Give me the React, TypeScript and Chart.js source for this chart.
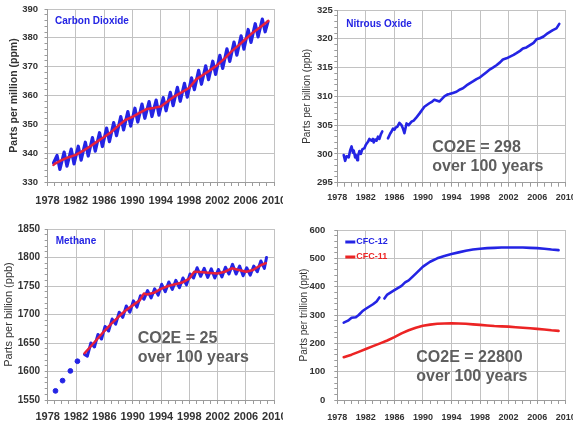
import React, { useEffect, useRef } from 'react';
import { Chart, registerables } from 'chart.js';

Chart.register(...registerables);

const FONT = '"Liberation Sans", Arial, Helvetica, sans-serif';
const BLUE = '#2424e4';
const RED = '#e6203c';
const RED11 = '#ec2424';
const GRID = '#c2c2c2';
const AXIS = '#9c9c9c';
const TEXT = '#333333';
const NOTE = '#5e5e5e';

// ---------- shared axis ----------
const yearMin = 1978;
const yearMax = 2010;
const yearLabelStep = 4;

// ---------- Carbon dioxide (ppm) ----------
const co2Years = [1979, 1980, 1981, 1982, 1983, 1984, 1985, 1986, 1987, 1988, 1989, 1990, 1991, 1992, 1993, 1994, 1995, 1996, 1997, 1998, 1999, 2000, 2001, 2002, 2003, 2004, 2005, 2006, 2007, 2008];
const co2Peaks = [339.2, 340.4, 341.4, 342.4, 343.8, 345.4, 347.1, 348.7, 350.6, 352.7, 354.4, 355.6, 357.0, 357.9, 358.4, 359.3, 361.1, 362.8, 364.2, 366.1, 368.7, 370.3, 371.9, 373.9, 376.2, 378.5, 380.7, 382.9, 384.9, 386.5];
const co2Troughs = [334.4, 335.5, 336.3, 337.6, 339.0, 340.7, 342.3, 344.0, 346.1, 348.1, 349.4, 350.8, 352.1, 352.7, 353.2, 354.7, 356.5, 358.0, 359.4, 362.0, 363.9, 365.5, 367.3, 369.4, 371.8, 374.0, 376.1, 378.4, 380.3, 382.1];
const co2FirstYear = 1978.85;
const co2FirstValue = 336.6;
const co2LastYear = 2009.15;
const co2LastValue = 385.6;
const co2TrendYears = [1978.85, 1979, 1980, 1981, 1982, 1983, 1984, 1985, 1986, 1987, 1988, 1989, 1990, 1991, 1992, 1993, 1994, 1995, 1996, 1997, 1998, 1999, 2000, 2001, 2002, 2003, 2004, 2005, 2006, 2007, 2008, 2009, 2009.2];
const co2Trend = [335.9, 336.3, 337.6, 338.6, 339.4, 340.8, 342.3, 344.0, 345.6, 347.3, 349.5, 351.5, 352.6, 354.0, 355.3, 355.7, 356.2, 358.0, 359.8, 361.2, 362.6, 365.6, 367.2, 368.8, 370.6, 372.8, 375.3, 377.4, 379.6, 381.8, 383.6, 385.5, 385.9];

// ---------- Nitrous oxide (ppb) ----------
const n2oYears = [1978.9, 1979.1, 1979.3, 1979.6, 1979.8, 1980.0, 1980.2, 1980.3, 1980.5, 1980.6, 1980.8, 1980.9, 1981.1, 1981.3, 1981.5, 1981.8, 1982.0, 1982.3, 1982.5, 1982.8, 1983.0, 1983.1, 1983.3, 1983.5, 1983.7, 1983.9, 1984.1, 1984.3, 1984.7, 1985.1, 1985.4, 1985.6, 1985.8, 1986.0, 1986.2, 1986.4, 1986.7, 1987.0, 1987.2, 1987.4, 1987.7, 1988.0, 1988.4, 1988.7, 1989.0, 1989.5, 1990.2, 1990.9, 1991.3, 1991.6, 1992.3, 1993.0, 1993.4, 1993.7, 1994.2, 1994.7, 1995.2, 1995.6, 1996.1, 1996.6, 1997.0, 1997.5, 1998.0, 1998.4, 1998.9, 1999.4, 1999.8, 2000.3, 2000.8, 2001.2, 2001.7, 2002.2, 2002.7, 2003.1, 2003.6, 2004.0, 2004.5, 2005.0, 2005.5, 2005.9, 2006.4, 2006.9, 2007.3, 2007.8, 2008.2, 2008.7, 2009.1];
const n2oValues = [299.8, 298.8, 299.6, 299.4, 300.6, 301.3, 300.2, 300.6, 299.4, 299.8, 298.9, 299.6, 300.5, 300.0, 300.8, 301.0, 301.6, 302.1, 302.6, 302.3, 302.6, 302.0, 302.5, 302.3, 303.0, 302.6, 303.4, 303.9, null, 302.7, 303.5, 303.9, 304.4, 304.2, 304.6, 304.7, 305.4, 305.0, 304.4, 303.6, 305.3, 305.0, 305.6, 305.8, 306.2, 307.0, 308.2, 308.8, 309.1, 309.4, 309.1, 310.0, 310.3, 310.4, 310.6, 310.8, 311.2, 311.4, 311.9, 312.3, 312.6, 313.0, 313.3, 313.7, 314.2, 314.7, 315.0, 315.4, 315.9, 316.4, 316.6, 316.9, 317.2, 317.5, 317.9, 318.3, 318.5, 318.9, 319.3, 319.9, 320.1, 320.4, 320.8, 321.2, 321.5, 321.8, 322.6];

// ---------- Methane (ppb) ----------
const ch4FlaskYears = [1979.1, 1980.1, 1981.2, 1982.2];
const ch4FlaskValues = [1566, 1584, 1601, 1618];
const ch4Years = [1984, 1985, 1986, 1987, 1988, 1989, 1990, 1991, 1992, 1993, 1994, 1995, 1996, 1997, 1998, 1999, 2000, 2001, 2002, 2003, 2004, 2005, 2006, 2007, 2008];
const ch4Peaks = [1650, 1665, 1679, 1692, 1704, 1715, 1724, 1733, 1742, 1745, 1753, 1757, 1760, 1764, 1771, 1782, 1781, 1780, 1779, 1783, 1788, 1785, 1782, 1785, 1794];
const ch4Troughs = [1643, 1657, 1671, 1683, 1695, 1704, 1713, 1727, 1729, 1734, 1740, 1744, 1747, 1752, 1764, 1767, 1765, 1764, 1766, 1771, 1771, 1768, 1769, 1775, 1781];
const ch4StartYears = [1983.2, 1983.6];
const ch4StartValues = [1630, 1627];
const ch4LastYear = 2008.9;
const ch4LastValue = 1800;
const ch4TrendYears = [1983.2, 1984, 1985, 1986, 1987, 1988, 1989, 1990, 1991, 1991.6, 1992, 1993, 1994, 1995, 1996, 1997, 1998, 1998.7, 1999, 2000, 2001, 2002, 2003, 2004, 2005, 2006, 2007, 2008, 2008.8];
const ch4Trend = [1632, 1643, 1657, 1671, 1684, 1696, 1707, 1716, 1725, 1737, 1735, 1738, 1745, 1750, 1753, 1756, 1763, 1775, 1775, 1774, 1773, 1772, 1775, 1781, 1778, 1775, 1778, 1786, 1790];

// ---------- CFCs (ppt) ----------
const cfc12Years = [1978.9, 1979.5, 1980.0, 1980.6, 1981.0, 1981.5, 1982.0, 1982.5, 1983.0, 1983.5, 1983.9, 1984.3, 1984.6, 1985.0, 1986.0, 1987.0, 1987.5, 1988.0, 1989, 1990, 1991, 1992, 1993, 1994, 1995, 1996, 1997, 1998, 1999, 2000, 2001, 2002, 2003, 2004, 2005, 2006, 2007, 2008, 2009];
const cfc12Values = [273, 280, 290, 292, 300, 313, 322, 330, 338, 348, 362, null, 358, 372, 388, 403, 415, 422, 446, 471, 488, 500, 508, 515, 521, 527, 531, 534, 536, 537, 538, 538, 538, 538, 537, 536, 534, 531, 529];
const cfc11Years = [1978.9, 1980, 1981, 1982, 1983, 1984, 1985, 1986, 1987, 1988, 1989, 1990, 1991, 1992, 1993, 1994, 1995, 1996, 1997, 1998, 1999, 2000, 2001, 2002, 2003, 2004, 2005, 2006, 2007, 2008, 2009];
const cfc11Values = [151, 160, 170, 180, 190, 200, 210, 222, 235, 246, 255, 262, 266, 269, 270, 271, 270, 269, 267, 265, 263, 261, 260, 259, 257, 255, 253, 251, 249, 246, 244];

// ---------- helpers ----------
const pts = (xs: number[], ys: (number | null)[]) => xs.map((x, i) => ({ x, y: ys[i] }));

function seasonal(startX: number[], startY: number[], years: number[], hi: number[], lo: number[], hiOff: number, loOff: number, endX: number, endY: number) {
  const out: { x: number; y: number }[] = pts(startX, startY) as any;
  years.forEach((yr, i) => {
    out.push({ x: yr + hiOff, y: hi[i] });
    out.push({ x: yr + loOff, y: lo[i] });
  });
  out.push({ x: endX, y: endY });
  return out;
}

const isStep = (v: number, base: number, step: number) => {
  const k = (v - base) / step;
  return Math.abs(k - Math.round(k)) < 1e-6;
};

const overlayPlugin = {
  id: 'overlay',
  afterDatasetsDraw(chart: any, _a: any, o: any) {
    const { ctx, chartArea } = chart;
    ctx.save();
    ctx.textBaseline = 'middle';
    ctx.textAlign = 'left';
    if (o.title) {
      ctx.font = `bold 10px ${FONT}`;
      ctx.fillStyle = BLUE;
      ctx.fillText(o.title, chartArea.left + o.titleDx, chartArea.top + o.titleDy);
    }
    if (o.legend) {
      chart.data.datasets.forEach((ds: any, i: number) => {
        const x = chartArea.left + o.legendDx;
        const y = chartArea.top + o.legendDy + i * 15;
        ctx.strokeStyle = ds.borderColor;
        ctx.lineWidth = 3;
        ctx.beginPath();
        ctx.moveTo(x, y);
        ctx.lineTo(x + 10, y);
        ctx.stroke();
        ctx.fillStyle = ds.borderColor;
        ctx.font = `bold 9px ${FONT}`;
        ctx.fillText(ds.label, x + 11, y);
      });
    }
    if (o.note) {
      ctx.font = `bold 16px ${FONT}`;
      ctx.fillStyle = NOTE;
      o.note.forEach((line: string, i: number) => {
        ctx.fillText(line, chartArea.left + o.noteDx, chartArea.top + o.noteDy + i * 19);
      });
    }
    ctx.restore();
  },
};

type AxisOpts = {
  yMin: number; yMax: number; yMajor: number; yMinor: number;
  yTitle: string; titleFont: { size: number; weight: string }; titlePad: number;
  yWidth: number; yPad: number; yFont: number;
  xHeight: number; xPad: number; xFont: number;
};

function scales(o: AxisOpts) {
  return {
    x: {
      type: 'linear',
      min: yearMin,
      max: yearMax,
      ticks: {
        stepSize: 1,
        autoSkip: false,
        maxRotation: 0,
        padding: o.xPad,
        color: TEXT,
        font: { family: FONT, size: o.xFont, weight: 'bold' },
        callback: (v: number) => (isStep(v, yearMin, yearLabelStep) ? String(Math.round(v)) : ''),
      },
      grid: {
        color: (c: any) => (c.tick && isStep(c.tick.value, yearMin, yearLabelStep) ? GRID : 'rgba(0,0,0,0)'),
        tickColor: AXIS,
        tickLength: 4,
        lineWidth: 1,
      },
      border: { color: AXIS, width: 1 },
      afterFit: (s: any) => {
        s.height = o.xHeight;
        s.paddingLeft = 0;
        s.paddingRight = 0;
      },
    },
    y: {
      type: 'linear',
      min: o.yMin,
      max: o.yMax,
      ticks: {
        stepSize: o.yMinor,
        autoSkip: false,
        padding: o.yPad,
        color: TEXT,
        font: { family: FONT, size: o.yFont, weight: 'bold' },
        callback: (v: number) => (isStep(v, o.yMin, o.yMajor) ? String(Math.round(v)) : ''),
      },
      grid: {
        color: (c: any) => (c.tick && isStep(c.tick.value, o.yMin, o.yMajor) ? GRID : 'rgba(0,0,0,0)'),
        tickColor: AXIS,
        tickLength: 3,
        lineWidth: 1,
      },
      border: { color: AXIS, width: 1 },
      title: {
        display: true,
        text: o.yTitle,
        color: TEXT,
        font: { family: FONT, size: o.titleFont.size, weight: o.titleFont.weight },
        padding: { top: o.titlePad, bottom: 0 },
      },
      afterFit: (s: any) => {
        s.width = o.yWidth;
        s.paddingTop = 0;
        s.paddingBottom = 0;
      },
    },
  };
}

function baseOptions(pad: { top: number; right: number }, sc: any, overlay: any) {
  return {
    responsive: false,
    animation: false,
    devicePixelRatio: 1,
    layout: { padding: { left: 0, top: pad.top, right: pad.right, bottom: 0 } },
    elements: { point: { radius: 0 }, line: { tension: 0, borderJoinStyle: 'round', borderCapStyle: 'round' } },
    plugins: { legend: { display: false }, tooltip: { enabled: false }, overlay },
    scales: sc,
  };
}

function co2Config(): any {
  return {
    type: 'line',
    data: {
      datasets: [
        { label: 'Trend', data: pts(co2TrendYears, co2Trend), borderColor: RED, borderWidth: 2.5, pointRadius: 0 },
        {
          label: 'Monthly',
          data: seasonal([co2FirstYear], [co2FirstValue], co2Years, co2Peaks, co2Troughs, 0.35, 0.75, co2LastYear, co2LastValue),
          borderColor: BLUE, borderWidth: 3.2, pointRadius: 0,
        },
      ],
    },
    options: baseOptions(
      { top: 9, right: 9 },
      scales({ yMin: 330, yMax: 390, yMajor: 10, yMinor: 2, yTitle: 'Parts per million (ppm)', titleFont: { size: 10.5, weight: 'bold' }, titlePad: 7.7, yWidth: 47.5, yPad: 6.5, yFont: 9.5, xHeight: 33, xPad: 8, xFont: 11 }),
      { title: 'Carbon Dioxide', titleDx: 7.5, titleDy: 12 }
    ),
    plugins: [overlayPlugin],
  };
}

function n2oConfig(): any {
  return {
    type: 'line',
    data: {
      datasets: [
        { label: 'N2O', data: pts(n2oYears, n2oValues), borderColor: BLUE, borderWidth: 2.6, pointRadius: 0, spanGaps: false },
      ],
    },
    options: baseOptions(
      { top: 10, right: 7.3 },
      scales({ yMin: 295, yMax: 325, yMajor: 5, yMinor: 1, yTitle: 'Parts per billion (ppb)', titleFont: { size: 10, weight: 'normal' }, titlePad: 18, yWidth: 54.3, yPad: 1.5, yFont: 9.5, xHeight: 32.3, xPad: 5.9, xFont: 9 }),
      { title: 'Nitrous Oxide', titleDx: 9, titleDy: 14, note: ['CO2E = 298', 'over 100 years'], noteDx: 95, noteDy: 138 }
    ),
    plugins: [overlayPlugin],
  };
}

function ch4Config(): any {
  return {
    type: 'line',
    data: {
      datasets: [
        { label: 'Trend', data: pts(ch4TrendYears, ch4Trend), borderColor: RED, borderWidth: 2.5, pointRadius: 0 },
        {
          label: 'Monthly',
          data: seasonal(ch4StartYears, ch4StartValues, ch4Years, ch4Peaks, ch4Troughs, 0.1, 0.6, ch4LastYear, ch4LastValue),
          borderColor: BLUE, borderWidth: 3, pointRadius: 0,
        },
        {
          label: 'Early',
          data: pts(ch4FlaskYears, ch4FlaskValues),
          showLine: false, pointRadius: 2.4, pointBackgroundColor: BLUE, pointBorderColor: BLUE, borderColor: BLUE,
        },
      ],
    },
    options: baseOptions(
      { top: 16, right: 8.7 },
      scales({ yMin: 1550, yMax: 1850, yMajor: 50, yMinor: 10, yTitle: 'Parts per billion (ppb)', titleFont: { size: 11, weight: 'normal' }, titlePad: 2.4, yWidth: 47.7, yPad: 4.7, yFont: 10, xHeight: 26, xPad: 6, xFont: 11 }),
      { title: 'Methane', titleDx: 8, titleDy: 12, note: ['CO2E = 25', 'over 100 years'], noteDx: 90, noteDy: 110 }
    ),
    plugins: [overlayPlugin],
  };
}

function cfcConfig(): any {
  return {
    type: 'line',
    data: {
      datasets: [
        { label: 'CFC-12', data: pts(cfc12Years, cfc12Values), borderColor: BLUE, borderWidth: 2.6, pointRadius: 0, spanGaps: false },
        { label: 'CFC-11', data: pts(cfc11Years, cfc11Values), borderColor: RED11, borderWidth: 2.6, pointRadius: 0 },
      ],
    },
    options: baseOptions(
      { top: 17, right: 7.3 },
      scales({ yMin: 0, yMax: 600, yMajor: 100, yMinor: 20, yTitle: 'Parts per trillion (ppt)', titleFont: { size: 10, weight: 'normal' }, titlePad: 15, yWidth: 54.3, yPad: 9, yFont: 9.5, xHeight: 26, xPad: 8.4, xFont: 9 }),
      { legend: true, legendDx: 8, legendDy: 12, note: ['CO2E = 22800', 'over 100 years'], noteDx: 79, noteDy: 128 }
    ),
    plugins: [overlayPlugin],
  };
}

function Panel(props: { left: number; top: number; width: number; height: number; make: () => any }) {
  const ref = useRef<HTMLCanvasElement | null>(null);
  useEffect(() => {
    if (!ref.current) return;
    const chart = new Chart(ref.current, props.make());
    return () => chart.destroy();
  }, []);
  return (
    <canvas
      ref={ref}
      width={props.width}
      height={props.height}
      style={{ position: 'absolute', left: props.left, top: props.top, width: props.width, height: props.height }}
    />
  );
}

export default function App() {
  return (
    <div style={{ position: 'absolute', left: 0, top: 0, width: 573, height: 426, background: '#ffffff', overflow: 'hidden' }}>
      <Panel left={0} top={0} width={283} height={215} make={co2Config} />
      <Panel left={283} top={0} width={290} height={215} make={n2oConfig} />
      <Panel left={0} top={213} width={283} height={213} make={ch4Config} />
      <Panel left={283} top={213} width={290} height={213} make={cfcConfig} />
    </div>
  );
}
